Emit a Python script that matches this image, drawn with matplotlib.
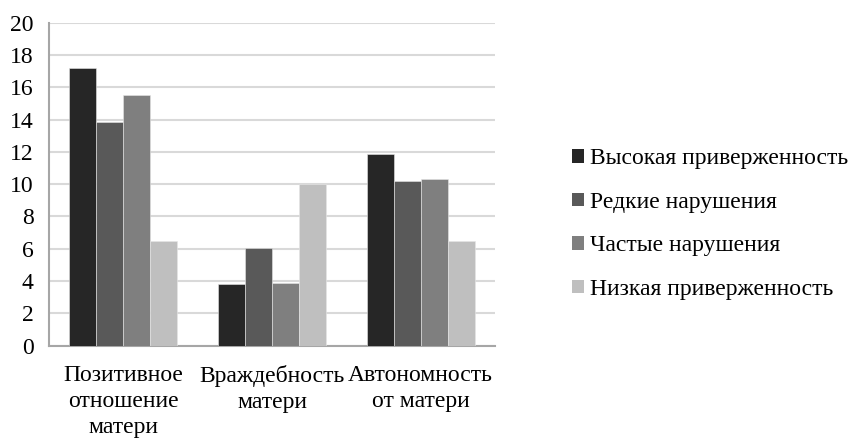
import matplotlib
matplotlib.use("Agg")
import matplotlib.pyplot as plt
import numpy as np
from matplotlib.patches import Patch

categories = ["Позитивное\nотношение\nматери", "Враждебность\nматери", "Автономность\nот матери"]
series_names = ["Высокая приверженность", "Редкие нарушения", "Частые нарушения", "Низкая приверженность"]
high = [17.2, 3.8, 11.85]
rare = [13.85, 6.05, 10.2]
frequent = [15.5, 3.9, 10.3]
low = [6.5, 10.0, 6.5]
colors = ["#262626", "#595959", "#7f7f7f", "#bfbfbf"]
yticks = [0, 2, 4, 6, 8, 10, 12, 14, 16, 18, 20]

plt.rcParams['font.family'] = 'serif'
plt.rcParams['font.serif'] = ['Liberation Serif', 'DejaVu Serif']

fig = plt.figure(figsize=(8.52, 4.4), dpi=100)
ax = fig.add_axes([49/852, 1-345.7/440, (495-49)/852, (345.7-22.7)/440])

values = [high, rare, frequent, low]
x = np.arange(len(categories))
bw = 1.0 / (4 + 1.5)
for i, (vals, c) in enumerate(zip(values, colors)):
    ax.bar(x - 2*bw + bw/2 + i*bw, vals, width=bw, color=c, edgecolor="#e6e6e6", linewidth=0.4, zorder=3)

ax.set_xlim(-0.5, 2.5)
ax.set_ylim(0, 20)
ax.set_yticks(yticks)
ax.set_yticklabels([str(t) for t in yticks], fontsize=17)
ax.set_xticks(x)
ax.set_xticklabels(categories, fontsize=17, linespacing=1.3)
ax.tick_params(axis='y', length=0, pad=11)
ax.tick_params(axis='x', length=0, pad=14)
ax.yaxis.grid(True, color="#d9d9d9", linewidth=1.5, zorder=0)
ax.set_axisbelow(True)
for s in ["top", "right"]:
    ax.spines[s].set_visible(False)
ax.spines["left"].set_color("#a6a6a6")
ax.spines["left"].set_linewidth(1.5)
ax.spines["bottom"].set_color("#a6a6a6")
ax.spines["bottom"].set_linewidth(1.5)

handles = [Patch(facecolor=c, edgecolor="none") for c in colors]
fig.legend(handles, series_names, loc="center left", bbox_to_anchor=(572/852, 1-224/440),
           frameon=False, fontsize=17, handlelength=0.5, handleheight=0.5,
           handletextpad=0.25, labelspacing=0.95, borderpad=0, borderaxespad=0)

fig.savefig("out.png", dpi=100)
